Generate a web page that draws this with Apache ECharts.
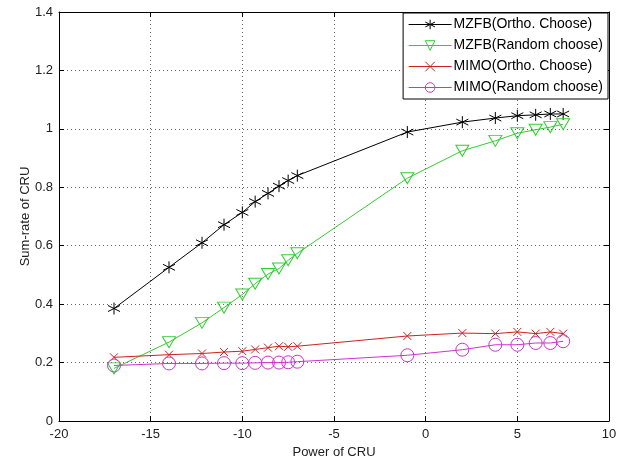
<!DOCTYPE html>
<html>
<head>
    <meta charset="utf-8">
    <title>Sum-rate of CRU</title>
    <style>
        html, body { margin: 0; padding: 0; background: #fff; }
        #main { width: 619px; height: 461px; }
    </style>
</head>
<body>
    <div id="main"></div>
    <script src="https://cdn.jsdelivr.net/npm/echarts@6/dist/echarts.min.js"></script>
    <script>
        // power of CRU (x values shared by all curves)
        var powerVals = [-17, -14, -12.2, -11, -10, -9.3, -8.6, -8, -7.5, -7, -1, 2, 3.8, 5, 6, 6.8, 7.5];

        var mzfbOrtho = [0.385, 0.526, 0.61, 0.672, 0.714, 0.751, 0.779, 0.804, 0.823, 0.84, 0.989, 1.023, 1.037, 1.045, 1.048, 1.051, 1.051];
        var mzfbRandom = [0.18, 0.27, 0.336, 0.388, 0.433, 0.47, 0.503, 0.522, 0.55, 0.574, 0.831, 0.925, 0.959, 0.985, 0.997, 1.006, 1.016];
        var mimoOrtho = [0.218, 0.227, 0.231, 0.236, 0.239, 0.245, 0.251, 0.256, 0.254, 0.256, 0.291, 0.301, 0.299, 0.305, 0.299, 0.305, 0.299];
        var mimoRandom = [0.19, 0.197, 0.197, 0.198, 0.198, 0.199, 0.2, 0.2, 0.201, 0.203, 0.225, 0.244, 0.261, 0.261, 0.267, 0.267, 0.273];

        var seriesNames = ['MZFB(Ortho. Choose)', 'MZFB(Random choose)', 'MIMO(Ortho. Choose)', 'MIMO(Random choose)'];

        var FONT = '"Liberation Sans", Arial, sans-serif';

        function pairs(ys) {
            var out = [];
            for (var i = 0; i < powerVals.length; i++) {
                out.push([powerVals[i], ys[i]]);
            }
            return out;
        }

        // marker shapes, matlab style
        var starPath = 'path://M0,-10L0,10M-8.66,-5L8.66,5M-8.66,5L8.66,-5';
        var crossPath = 'path://M-10,-10L10,10M-10,10L10,-10';
        var triPath = 'path://M-10,-8.66L10,-8.66L0,8.66Z';

        function lineSeries(name, ys, color, symbol, size) {
            return {
                name: name,
                type: 'line',
                data: pairs(ys),
                symbol: symbol,
                symbolSize: size,
                showAllSymbol: true,
                lineStyle: { color: color, width: 1 },
                itemStyle: { color: 'rgba(255,255,255,0)', borderColor: color, borderWidth: 1 },
                emphasis: { disabled: true },
                animation: false,
                z: 3
            };
        }

        var myChart = echarts.init(document.getElementById('main'));

        var axisLineStyle = { color: '#000', width: 1 };
        var gridDotted = { color: '#666', type: [1, 3], width: 1 };

        var option = {
            backgroundColor: '#fff',
            animation: false,
            grid: { left: 59, right: 10, top: 12, bottom: 40, show: false, outerBoundsMode: 'none', containLabel: false },
            legend: {
                data: seriesNames,
                orient: 'vertical',
                right: 11,
                top: 13,
                backgroundColor: '#fff',
                borderColor: '#000',
                borderWidth: 1,
                padding: [3, 5, 3, 5],
                itemGap: 4,
                itemWidth: 43,
                itemHeight: 12,
                lineStyle: { width: 1 },
                itemStyle: { borderWidth: 1 },
                textStyle: { fontFamily: FONT, fontSize: 14, color: '#000', lineHeight: 17, padding: [0, 0, 0, -3] }
            },
            xAxis: [{
                type: 'value',
                min: -20, max: 10, interval: 5,
                name: 'Power of CRU',
                nameLocation: 'middle',
                nameGap: 25,
                nameMoveOverlap: false,
                nameTextStyle: { fontFamily: FONT, fontSize: 13, color: '#222' },
                axisLine: { onZero: false, lineStyle: axisLineStyle },
                axisTick: { inside: true, length: 5, lineStyle: axisLineStyle },
                axisLabel: { fontFamily: FONT, fontSize: 13, color: '#222', margin: 7 },
                splitLine: { show: true, lineStyle: gridDotted }
            }, {
                type: 'value',
                position: 'top',
                min: -20, max: 10, interval: 5,
                axisLine: { show: true, onZero: false, lineStyle: axisLineStyle },
                axisTick: { show: true, inside: true, length: 5, lineStyle: axisLineStyle },
                axisLabel: { show: false },
                splitLine: { show: false }
            }],
            yAxis: [{
                type: 'value',
                min: 0, max: 1.4, interval: 0.2,
                name: 'Sum-rate of CRU',
                nameLocation: 'middle',
                nameGap: 27,
                nameMoveOverlap: false,
                nameTextStyle: { fontFamily: FONT, fontSize: 13, color: '#222' },
                axisLine: { show: true, onZero: false, lineStyle: axisLineStyle },
                axisTick: { show: true, inside: true, length: 5, lineStyle: axisLineStyle },
                axisLabel: {
                    fontFamily: FONT, fontSize: 13, color: '#222', margin: 6,
                    formatter: function (v) { return String(Math.round(v * 10) / 10); }
                },
                splitLine: { show: true, lineStyle: gridDotted }
            }, {
                type: 'value',
                position: 'right',
                min: 0, max: 1.4, interval: 0.2,
                axisLine: { show: true, onZero: false, lineStyle: axisLineStyle },
                axisTick: { show: true, inside: true, length: 5, lineStyle: axisLineStyle },
                axisLabel: { show: false },
                splitLine: { show: false }
            }],
            series: [
                lineSeries(seriesNames[0], mzfbOrtho, '#000000', starPath, 12),
                lineSeries(seriesNames[1], mzfbRandom, '#33cc33', triPath, [13, 11]),
                lineSeries(seriesNames[2], mimoOrtho, '#cc2222', crossPath, 8),
                lineSeries(seriesNames[3], mimoRandom, '#cc33cc', 'circle', 13)
            ]
        };

        myChart.setOption(option);
    </script>
</body>
</html>
